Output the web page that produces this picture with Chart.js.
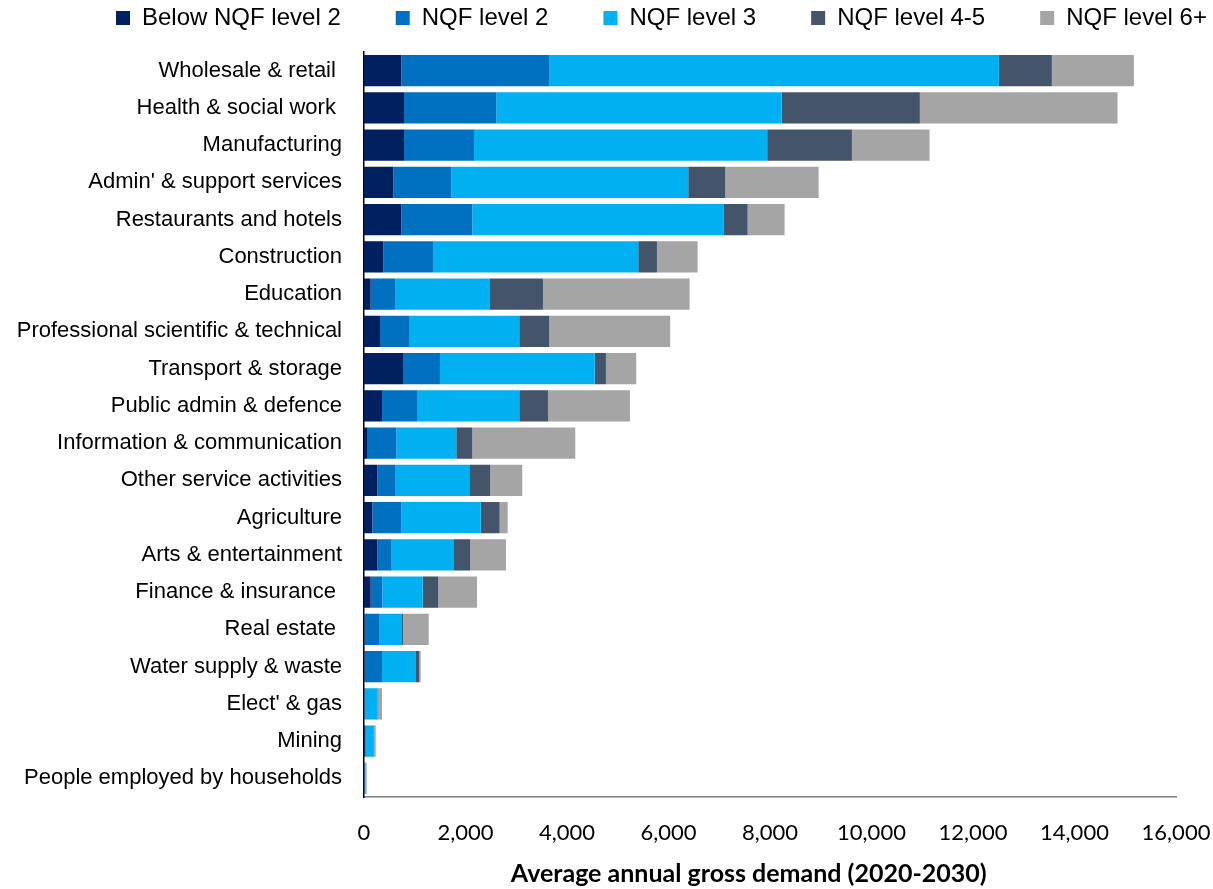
<!DOCTYPE html>
<html>
<head>
<meta charset="utf-8">
<script src="https://cdn.jsdelivr.net/npm/chart.js@4"></script>
<style>
html,body{margin:0;padding:0;background:#fff;}
#wrap{width:1213px;height:889px;position:relative;}
</style>
</head>
<body>
<div id="wrap"><canvas id="c" width="1213" height="889"></canvas></div>
<script>
const categories = [
  "Wholesale & retail ", "Health & social work ", "Manufacturing", "Admin' & support services",
  "Restaurants and hotels", "Construction", "Education", "Professional scientific & technical",
  "Transport & storage", "Public admin & defence", "Information & communication",
  "Other service activities", "Agriculture", "Arts & entertainment", "Finance & insurance ",
  "Real estate ", "Water supply & waste", "Elect' & gas", "Mining", "People employed by households"
];
const seriesNames = ["Below NQF level 2", "NQF level 2", "NQF level 3", "NQF level 4-5", "NQF level 6+"];
const belowNQF2 = [735, 788, 788, 578, 735, 380, 131, 315, 768, 355, 59, 262, 164, 262, 131, 10, 10, 5, 15, 5];
const nqf2      = [2910, 1818, 1379, 1142, 1399, 979, 480, 572, 729, 689, 578, 349, 571, 283, 230, 286, 345, 28, 20, 10];
const nqf3      = [8865, 5623, 5778, 4669, 4958, 4045, 1871, 2172, 3048, 2015, 1181, 1463, 1564, 1214, 795, 453, 669, 229, 160, 15];
const nqf45     = [1044, 2724, 1669, 729, 467, 368, 1044, 591, 222, 566, 316, 414, 374, 335, 308, 19, 60, 10, 5, 5];
const nqf6      = [1616, 3895, 1530, 1840, 729, 802, 2890, 2384, 597, 1615, 2029, 631, 158, 703, 762, 507, 33, 83, 30, 17];
const xTicks = [0, 2000, 4000, 6000, 8000, 10000, 12000, 14000, 16000];
const colors = ["#002060", "#0070C0", "#00B0F0", "#44546A", "#A5A5A5"];
const allSeries = [belowNQF2, nqf2, nqf3, nqf45, nqf6];

const datasets = allSeries.map((d, i) => ({
  label: seriesNames[i],
  data: d,
  backgroundColor: colors[i],
  borderWidth: 0,
  categoryPercentage: 1.0,
  barPercentage: 0.84
}));

const LEGEND_PAD = 55;
const legendTweak = {
  id: 'legendTweak',
  beforeUpdate(chart) {
    const lg = chart.legend;
    if (lg && !lg._patched) {
      const orig = lg.fit;
      lg.fit = function () {
        const mw = this.maxWidth;
        this.maxWidth = 1600;
        orig.call(this);
        this.maxWidth = mw;
        this.width = mw;
        this.height = 52;
      };
      lg._patched = true;
    }
  },
  afterLayout(chart) {
    const lg = chart.legend;
    if (!lg) return;
    const pad = LEGEND_PAD;
    lg.left = 116 - pad;
    lg.right = 1700;
    lg.width = lg.right - lg.left;
    lg.top = 18 - pad - 12;
    lg.bottom = 52;
    lg.height = lg.bottom - lg.top;
  }
};

new Chart(document.getElementById('c'), {
  type: 'bar',
  data: { labels: categories, datasets },
  plugins: [legendTweak],
  options: {
    indexAxis: 'y',
    responsive: false,
    animation: false,
    layout: { padding: { left: 0, right: 37, top: 0, bottom: 0 } },
    plugins: {
      tooltip: { enabled: false },
      legend: {
        position: 'top',
        align: 'start',
        labels: {
          font: { family: 'Liberation Sans, Arial, sans-serif', size: 24 },
          color: '#000',
          boxWidth: 14,
          boxHeight: 14,
          padding: LEGEND_PAD
        }
      }
    },
    scales: {
      x: {
        stacked: true,
        min: 0, max: 16000,
        afterBuildTicks: (s) => { s.ticks = xTicks.map(v => ({ value: v })); },
        grid: { display: false, drawOnChartArea: false, drawTicks: true, tickLength: 7, color: '#7f7f7f' },
        border: { display: true, color: '#7f7f7f', width: 1.5 },
        ticks: {
          font: { family: 'Lato, sans-serif', size: 22 },
          color: '#000',
          padding: 16,
          maxRotation: 0,
          callback: (v) => v.toLocaleString('en-US')
        },
        title: {
          display: true,
          text: 'Average annual gross demand (2020-2030)       ',
          font: { family: 'Lato, sans-serif', size: 25, weight: 'bold' },
          color: '#000',
          padding: { top: 4, bottom: 0 }
        },
        afterFit: (s) => { s.height = 92; s.paddingRight = 0; s.paddingLeft = 0; }
      },
      y: {
        stacked: true,
        grid: { display: false, drawTicks: false },
        border: { display: true, color: '#000', width: 1.5 },
        ticks: {
          font: { family: 'Liberation Sans, Arial, sans-serif', size: 22 },
          color: '#000',
          padding: 22,
          autoSkip: false
        },
        afterFit: (s) => { s.width = 364; }
      }
    }
  }
});
</script>
</body>
</html>
